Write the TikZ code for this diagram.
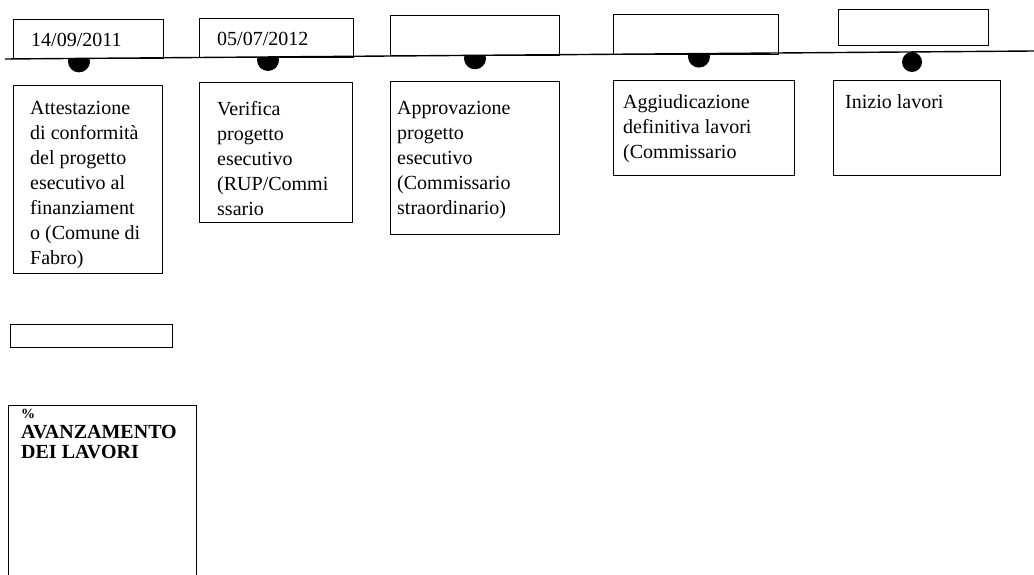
\documentclass[tikz,border=0pt]{standalone}
\usepackage{fontspec}
\setmainfont{Liberation Serif}
\begin{document}
\begin{tikzpicture}[x=1pt,y=-1pt,
  box/.style={draw, line width=1.1pt, fill=white, inner sep=0pt, anchor=north west},
  txt/.style={anchor=north west, align=left, inner sep=0pt, font=\fontsize{20}{25}\selectfont},
  datetxt/.style={anchor=west, inner sep=0pt, font=\fontsize{20}{22}\selectfont},
  bigtxt/.style={anchor=north west, align=left, inner sep=0pt, font=\fontsize{20}{20}\selectfont\bfseries},
  dot/.style={fill=black}]
\useasboundingbox (0,0) rectangle (1034,575);

% dots
\fill[dot] (79,61.4) circle[radius=11];
\fill[dot] (268,60) circle[radius=11];
\fill[dot] (475,58.3) circle[radius=11];
\fill[dot] (699,56.6) circle[radius=11];
\fill[dot] (912,62) circle[radius=10];

% date boxes
\node[box, minimum width=150pt, minimum height=39.4pt] (d1) at (13,19) {};
\node[box, minimum width=154pt, minimum height=39pt] (d2) at (199,18) {};
\node[box, minimum width=169pt, minimum height=40.3pt] (d3) at (390,15) {};
\node[box, minimum width=165pt, minimum height=39.6pt] (d4) at (613,14) {};
\node[box, minimum width=150pt, minimum height=36pt] (d5) at (838,9) {};
\node[datetxt] (t1) at ([xshift=18pt,yshift=-0.5pt]d1.west) {14/09/2011};
\node[datetxt] (t2) at ([xshift=18pt,yshift=-0.5pt]d2.west) {05/07/2012};

% main line
\coordinate (l0) at (5,59);
\coordinate (l1) at (1034,51);
\draw[line width=1.4pt] (l0) -- (l1);

% lower boxes
\node[box, minimum width=149pt, minimum height=188pt] (b1) at (13,85) {};
\node[box, minimum width=153pt, minimum height=140pt] (b2) at (199,82) {};
\node[box, minimum width=169pt, minimum height=153pt] (b3) at (390,81) {};
\node[box, minimum width=181pt, minimum height=95pt] (b4) at (613,80) {};
\node[box, minimum width=167pt, minimum height=95pt] (b5) at (833,80) {};

\node[txt] (x1) at ([shift={(17,16)}]b1.north west) {Attestazione\\di conformità\\del progetto\\esecutivo al\\finanziament\\o (Comune di\\Fabro)};
\node[txt] (x2) at ([shift={(18,19)}]b2.north west) {Verifica\\progetto\\esecutivo\\(RUP/Commi\\ssario};
\node[txt] (x3) at ([shift={(7,20)}]b3.north west) {Approvazione\\progetto\\esecutivo\\(Commissario\\straordinario)};
\node[txt] (x4) at ([shift={(10,14)}]b4.north west) {Aggiudicazione\\definitiva lavori\\(Commissario};
\node[txt] (x5) at ([shift={(12,14)}]b5.north west) {Inizio lavori};

% bottom-left boxes
\node[box, minimum width=162pt, minimum height=23pt] (s1) at (10,324) {};
\node[box, minimum width=188pt, minimum height=185pt] (p1) at (8,405) {};
\node[bigtxt] (px) at ([shift={(13,4)}]p1.north west) {{\fontsize{14}{14}\selectfont\%}\\AVANZAMENTO\\DEI LAVORI};
\end{tikzpicture}
\end{document}
